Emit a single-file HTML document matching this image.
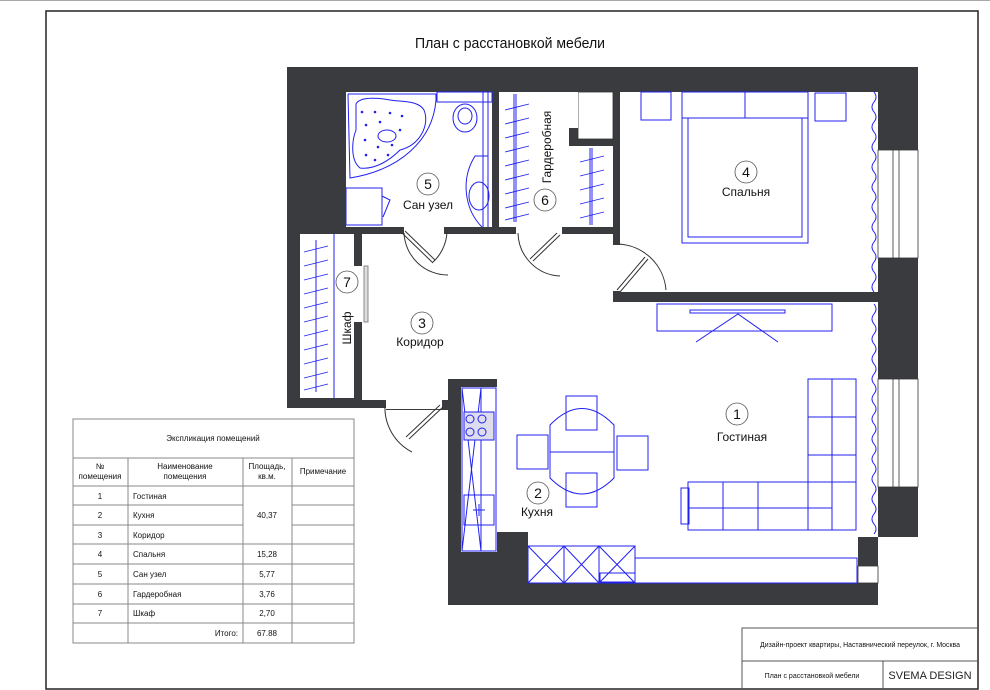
<!DOCTYPE html>
<html><head><meta charset="utf-8"><style>
html,body{margin:0;padding:0;background:#fff;}
svg{display:block;}
text{font-family:"Liberation Sans",sans-serif;}
</style></head><body>
<svg width="990" height="690" viewBox="0 0 990 690" xmlns="http://www.w3.org/2000/svg">
<line x1="0" y1="0.5" x2="990" y2="0.5" stroke="#aaa" stroke-width="1"/>
<rect x="46" y="11" width="932" height="678" fill="none" stroke="#222" stroke-width="1.5"/>
<text x="510" y="48" font-size="15" text-anchor="middle" fill="#111" textLength="190" lengthAdjust="spacingAndGlyphs">План с расстановкой мебели</text>

<path d="M287,67 H918 V537 H878 V605 H448 V401 H442 V410 H386 V408 H287 Z" fill="#3a3b3f"/>
<rect x="346" y="92" width="146" height="135" fill="#fff"/>
<rect x="499" y="92" width="114" height="135" fill="#fff"/>
<rect x="620" y="92" width="258" height="200" fill="#fff"/>
<rect x="300" y="234" width="54" height="164" fill="#fff"/>
<path d="M362,234 H613 V302 H878 V537 H858 V583 H528 V532 H497 V379 H448 V400 H362 Z" fill="#fff"/>
<rect x="448" y="379" width="49" height="8" fill="#3a3b3f"/>
<rect x="448" y="379" width="13" height="173" fill="#3a3b3f"/>
<rect x="442" y="400" width="8" height="10" fill="#3a3b3f"/>
<rect x="461" y="387" width="36" height="165" fill="#fff"/>
<rect x="528" y="545" width="330" height="38" fill="#fff"/>
<rect x="386" y="395" width="56" height="14" fill="#fff"/>
<rect x="612" y="245" width="10" height="46" fill="#fff"/>
<rect x="404" y="226" width="40" height="10" fill="#fff"/>
<rect x="516" y="226" width="46" height="10" fill="#fff"/>
<rect x="353" y="266" width="10" height="56" fill="#fff"/>
<rect x="569" y="92" width="44" height="54" fill="#3a3b3f"/>
<rect x="578" y="92" width="35" height="47" fill="#fff" stroke="#333" stroke-width="0.8"/>
<rect x="569" y="92" width="9" height="36" fill="#fff"/>
<g fill="#fff" stroke="#333" stroke-width="0.8">
<rect x="878" y="150" width="40" height="108"/>
<rect x="878" y="379" width="40" height="108"/>
<rect x="858" y="566" width="20" height="17"/>
</g>
<g stroke="#333" stroke-width="0.8"><line x1="893" y1="150" x2="893" y2="258"/><line x1="899" y1="150" x2="899" y2="258"/><line x1="893" y1="379" x2="893" y2="487"/><line x1="899" y1="379" x2="899" y2="487"/></g>

<g stroke="#333" fill="none" stroke-width="1">
<path d="M402,233 L432,262 M405,231 L435,260"/>
<path d="M404,233 A44,44 0 0 0 448,275 M447,232 A44,44 0 0 1 432,263"/>
<path d="M557,233 L530,259 M560,235 L533,261"/>
<path d="M518,233 A44,44 0 0 0 560,276"/>
<path d="M617,290 L645,257 M620,292 L648,259"/>
<path d="M617,244 A50,50 0 0 1 666,290"/>
<path d="M440,405 L406,437 M443,407 L409,439"/>
<path d="M385,405 A50,50 0 0 0 412,452"/>
</g>
<g stroke="#888" stroke-width="1" fill="#ddd"><rect x="364" y="266" width="4" height="56"/></g>

<g stroke="#2020f0" fill="none" stroke-width="1">
<path d="M348,94 H436 V100 C433,140 400,170 350,178 L348,94"/>
<path d="M356,104 C360,96 380,98 390,100 C400,102 418,100 424,110 C430,125 420,145 400,150 C390,160 375,170 360,168 C350,160 352,140 356,130 Z"/>
<ellipse cx="387" cy="136" rx="9" ry="6"/>
<rect x="346" y="188" width="36" height="37"/>
<path d="M382,196 L390,200 L383,217"/>
<rect x="437" y="92" width="55" height="10"/>
<ellipse cx="465" cy="118" rx="12" ry="14"/><ellipse cx="465" cy="116" rx="7" ry="8"/>
<line x1="483" y1="92" x2="483" y2="227"/><line x1="488" y1="92" x2="488" y2="227"/>
<path d="M488,156 H475 C460,180 465,210 482,227"/>
<ellipse cx="479" cy="196" rx="10" ry="14"/>
<line x1="514" y1="94" x2="514" y2="222"/><line x1="516" y1="94" x2="516" y2="222"/>
<line x1="590" y1="148" x2="590" y2="225"/><line x1="592" y1="148" x2="592" y2="225"/>
<line x1="316" y1="240" x2="316" y2="392"/><line x1="334" y1="234" x2="334" y2="398"/>
<rect x="641" y="92" width="30" height="28"/><rect x="815" y="93" width="31" height="28"/>
<rect x="682" y="92" width="126" height="151"/><line x1="682" y1="118" x2="808" y2="118"/><line x1="745" y1="92" x2="745" y2="118"/>
<rect x="688" y="118" width="114" height="119"/>
<rect x="657" y="304" width="175" height="27"/><rect x="690" y="310" width="95" height="3"/>
<path d="M696,342 L738,314 L778,342"/>
<rect x="566" y="396" width="31" height="34"/><rect x="566" y="473" width="31" height="34"/>
<rect x="517" y="435" width="31" height="34"/><rect x="617" y="436" width="31" height="34"/>
<path d="M550,425 Q582,392 614,425 V478 Q582,510 550,478 Z"/><line x1="550" y1="452" x2="614" y2="452"/>
<rect x="808" y="379" width="48" height="151"/><line x1="832" y1="379" x2="832" y2="530"/><line x1="808" y1="417" x2="856" y2="417"/><line x1="808" y1="455" x2="856" y2="455"/>
<rect x="688" y="482" width="168" height="48"/><line x1="688" y1="508" x2="832" y2="508"/><line x1="723" y1="482" x2="723" y2="530"/><line x1="758" y1="482" x2="758" y2="530"/><line x1="808" y1="482" x2="808" y2="530"/>
<rect x="681" y="488" width="8" height="36"/>
<rect x="462" y="388" width="34" height="163"/><line x1="462" y1="388" x2="481" y2="551"/><line x1="481" y1="388" x2="462" y2="551"/><line x1="481" y1="388" x2="481" y2="551"/>
<rect x="464" y="412" width="30" height="28" fill="#dde"/>
<circle cx="470" cy="419" r="4"/><circle cx="482" cy="419" r="4"/><circle cx="470" cy="432" r="4"/><circle cx="482" cy="432" r="4"/>
<rect x="464" y="495" width="30" height="30"/><line x1="473" y1="510" x2="485" y2="510"/><line x1="479" y1="504" x2="479" y2="516"/>
<rect x="528" y="546" width="107" height="37"/><line x1="564" y1="546" x2="564" y2="583"/><line x1="599" y1="546" x2="599" y2="583"/>
<path d="M528,546 L564,583 M564,546 L528,583 M564,546 L599,583 M599,546 L564,583 M599,546 L635,583 M635,546 L599,583"/>
<rect x="600" y="573" width="35" height="9"/>
<rect x="635" y="558" width="222" height="25"/>
<path d="M874,92 q4,5 0,10 q-4,5 0,10 q4,5 0,10 q-4,5 0,10 q4,5 0,10 q-4,5 0,10 q4,5 0,10 q-4,5 0,10 q4,5 0,10 q-4,5 0,10 q4,5 0,10 q-4,5 0,10 q4,5 0,10 q-4,5 0,10 q4,5 0,10 q-4,5 0,10 q4,5 0,10 q-4,5 0,10 q4,5 0,10 q-4,5 0,10"/>
<path d="M874,304 q4,5 0,10 q-4,5 0,10 q4,5 0,10 q-4,5 0,10 q4,5 0,10 q-4,5 0,10 q4,5 0,10 q-4,5 0,10 q4,5 0,10 q-4,5 0,10 q4,5 0,10 q-4,5 0,10 q4,5 0,10 q-4,5 0,10 q4,5 0,10 q-4,5 0,10 q4,5 0,10 q-4,5 0,10 q4,5 0,10 q-4,5 0,10 q4,5 0,10 q-4,5 0,10 q4,5 0,10"/>
</g>
<g stroke="#2020f0" stroke-width="0.9">
<path d="M505,110 l24,-6 M505,124 l24,-6 M505,138 l24,-6 M505,152 l24,-6 M505,166 l24,-6 M505,180 l24,-6 M505,194 l24,-6 M505,208 l24,-6 M505,220 l24,-6"/>
<path d="M580,162 l24,-6 M580,176 l24,-6 M580,190 l24,-6 M580,204 l24,-6 M580,218 l24,-6"/>
<path d="M304,252 l24,-6 M304,266 l24,-6 M304,280 l24,-6 M304,294 l24,-6 M304,308 l24,-6 M304,322 l24,-6 M304,336 l24,-6 M304,350 l24,-6 M304,364 l24,-6 M304,378 l24,-6 M304,390 l24,-6"/>
</g>
<g fill="#2020f0">
<circle cx="362" cy="112" r="1.3"/><circle cx="375" cy="112" r="1.3"/><circle cx="390" cy="113" r="1.3"/><circle cx="402" cy="116" r="1.3"/><circle cx="366" cy="125" r="1.3"/><circle cx="380" cy="122" r="1.3"/><circle cx="400" cy="130" r="1.3"/><circle cx="365" cy="140" r="1.3"/><circle cx="378" cy="147" r="1.3"/><circle cx="392" cy="145" r="1.3"/><circle cx="366" cy="155" r="1.3"/><circle cx="375" cy="160" r="1.3"/><circle cx="388" cy="155" r="1.3"/>
</g>

<g fill="none" stroke="#555" stroke-width="0.8">
<circle cx="428" cy="184" r="11"/><circle cx="545" cy="200" r="11"/><circle cx="347" cy="282" r="11"/><circle cx="422" cy="323" r="11"/><circle cx="746" cy="172" r="11"/><circle cx="737" cy="414" r="11"/><circle cx="538" cy="493" r="11"/>
</g>
<g font-size="14" text-anchor="middle" fill="#111">
<text x="428" y="189">5</text><text x="545" y="205">6</text><text x="347" y="287">7</text><text x="422" y="328">3</text><text x="746" y="177">4</text><text x="737" y="419">1</text><text x="538" y="498">2</text>
</g>
<g font-size="12" text-anchor="middle" fill="#111">
<text x="428" y="209">Сан узел</text>
<text x="420" y="346">Коридор</text>
<text x="746" y="196">Спальня</text>
<text x="742" y="441">Гостиная</text>
<text x="537" y="516">Кухня</text>
<text transform="translate(551,147) rotate(-90)">Гардеробная</text>
<text transform="translate(351,328) rotate(-90)">Шкаф</text>
</g>

<g stroke="#888" stroke-width="1" fill="none">
<rect x="73" y="419" width="281" height="224"/>
<line x1="73" y1="458" x2="354" y2="458"/>
<line x1="73" y1="486" x2="354" y2="486"/>
<line x1="73" y1="505" x2="243" y2="505"/><line x1="292" y1="505" x2="354" y2="505"/>
<line x1="73" y1="525" x2="243" y2="525"/><line x1="292" y1="525" x2="354" y2="525"/>
<line x1="73" y1="544" x2="354" y2="544"/>
<line x1="73" y1="564" x2="354" y2="564"/>
<line x1="73" y1="584" x2="354" y2="584"/>
<line x1="73" y1="604" x2="354" y2="604"/>
<line x1="73" y1="623" x2="354" y2="623"/>
<line x1="128" y1="458" x2="128" y2="643"/><line x1="243" y1="458" x2="243" y2="643"/><line x1="292" y1="458" x2="292" y2="643"/>
</g>
<g font-size="8" fill="#111" text-anchor="middle">
<text x="213" y="441">Экспликация помещений</text>
<text x="100" y="469">№</text><text x="100" y="479">помещения</text>
<text x="185" y="469">Наименование</text><text x="185" y="479">помещения</text>
<text x="267" y="469">Площадь,</text><text x="267" y="479">кв.м.</text>
<text x="323" y="474">Примечание</text>
<text x="100" y="499">1</text><text x="100" y="518">2</text><text x="100" y="538">3</text><text x="100" y="557">4</text><text x="100" y="577">5</text><text x="100" y="597">6</text><text x="100" y="616">7</text>
<text x="267" y="518">40,37</text><text x="267" y="557">15,28</text><text x="267" y="577">5,77</text><text x="267" y="597">3,76</text><text x="267" y="616">2,70</text><text x="267" y="636">67.88</text>
</g>
<g font-size="8" fill="#111">
<text x="133" y="499">Гостиная</text><text x="133" y="518">Кухня</text><text x="133" y="538">Коридор</text><text x="133" y="557">Спальня</text><text x="133" y="577">Сан узел</text><text x="133" y="597">Гардеробная</text><text x="133" y="616">Шкаф</text>
<text x="238" y="636" text-anchor="end">Итого:</text>
</g>

<g stroke="#555" stroke-width="1" fill="none">
<path d="M742,688 V628 H978"/><line x1="742" y1="661" x2="978" y2="661"/><line x1="883" y1="661" x2="883" y2="688"/>
</g>
<text x="860" y="647" font-size="7" text-anchor="middle" fill="#111" textLength="200" lengthAdjust="spacingAndGlyphs">Дизайн-проект квартиры, Наставнический переулок, г. Москва</text>
<text x="812" y="678" font-size="7" text-anchor="middle" fill="#111">План с расстановкой мебели</text>
<text x="930" y="679" font-size="11" text-anchor="middle" fill="#222">SVEMA DESIGN</text>
</svg>
</body></html>
